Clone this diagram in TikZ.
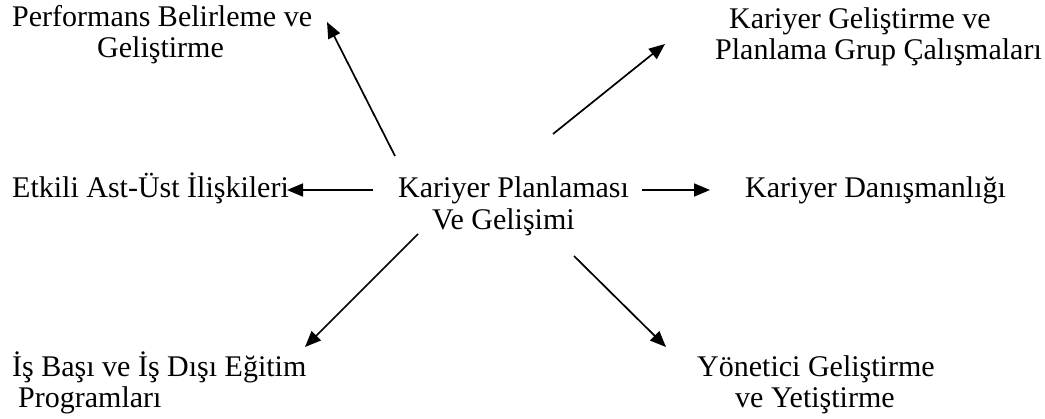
\documentclass[tikz,border=0pt]{standalone}
\usepackage{fontspec}
\setmainfont{Liberation Serif}
\usetikzlibrary{arrows.meta}
\tikzset{
  lbl/.style={anchor=base west, inner sep=0pt, font=\fontsize{30}{31}\selectfont},
  arr/.style={line width=1.7pt, -{Triangle[length=16pt,width=13pt]}}
}
\begin{document}
\begin{tikzpicture}[x=1pt,y=-1pt]
\useasboundingbox (0,0) rectangle (1045,419);
\fill[white] (0,0) rectangle (1045,419);
% labels
\node[lbl] (perfA) at (12,27) {Performans Belirleme ve};
\node[lbl] (perfB) at (97,58) {Geliştirme};
\node[lbl] (kgA) at (729,29) {Kariyer Geliştirme ve};
\node[lbl] (kgB) at (715,60) {Planlama Grup Çalışmaları};
\node[lbl] (etk) at (12,198) {Etkili Ast-Üst İlişkileri};
\node[lbl] (kpA) at (398,198) {Kariyer Planlaması};
\node[lbl] (kpB) at (432,230) {Ve Gelişimi};
\node[lbl] (kd) at (745,198) {Kariyer Danışmanlığı};
\node[lbl] (isA) at (12,377) {İş Başı ve İş Dışı Eğitim};
\node[lbl] (isB) at (18,408) {Programları};
\node[lbl] (ynA) at (697,377) {Yönetici Geliştirme};
\node[lbl] (ynB) at (735,408) {ve Yetiştirme};
% arrow ends
\coordinate (s1) at (395,156); \coordinate (e1) at (327,22);
\coordinate (s2) at (553,134); \coordinate (e2) at (665,44);
\coordinate (s3) at (373,190); \coordinate (e3) at (287,190);
\coordinate (s4) at (642,190); \coordinate (e4) at (710,190);
\coordinate (s5) at (418,234); \coordinate (e5) at (305,347);
\coordinate (s6) at (574,256); \coordinate (e6) at (666,347);
\draw[arr] (s1) -- (e1);
\draw[arr] (s2) -- (e2);
\draw[arr] (s3) -- (e3);
\draw[arr] (s4) -- (e4);
\draw[arr] (s5) -- (e5);
\draw[arr] (s6) -- (e6);
\end{tikzpicture}
\end{document}
